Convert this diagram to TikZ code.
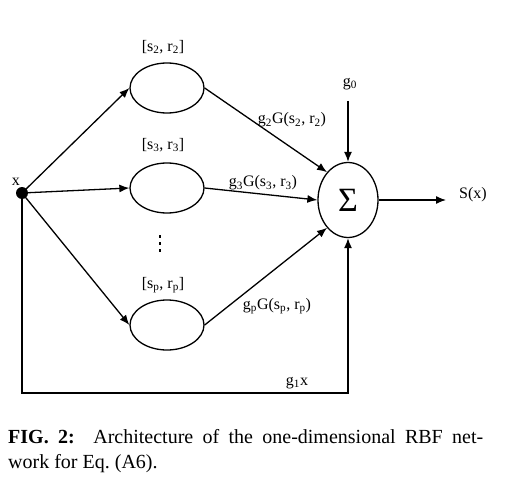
\documentclass[tikz,border=0pt]{standalone}
\usepackage{fontspec}
\setmainfont{Liberation Serif}
\usetikzlibrary{shapes.geometric,arrows.meta}
\newcommand\lsub[1]{\textsubscript{#1}}
\tikzset{
  unitbox/.style={draw, ellipse, line width=1.3pt, minimum width=74pt, minimum height=50pt, inner sep=0pt},
  lbl/.style={font=\fontsize{16}{18}\selectfont, inner sep=0pt},
  arr/.style={line width=1.3pt, -{Latex[length=10pt,width=8pt]}},
  ln/.style={line width=1.3pt}
}
\begin{document}
\begin{tikzpicture}[x=1pt,y=-1pt]
\useasboundingbox (0,0) rectangle (505,481);
% nodes
\node[circle, fill=black, minimum size=12pt, inner sep=0pt] (x) at (22,193) {};
\node[lbl] (xl) at (16,182) {x};
\node[unitbox] (e2) at (167,88) {};
\node[unitbox] (e3) at (167,188) {};
\node[unitbox] (ep) at (167,325) {};
\node[draw, ellipse, line width=1.3pt, minimum width=60pt, minimum height=75pt, inner sep=0pt,
      font=\fontsize{34}{34}\selectfont] (sig) at (348,200) {Σ};
\node[lbl] (l2) at (163,47) {[s\lsub{2}, r\lsub{2}]};
\node[lbl] (l3) at (163,145) {[s\lsub{3}, r\lsub{3}]};
\node[lbl] (lp) at (163,285) {[s\lsub{p}, r\lsub{p}]};
\node[lbl] (g0) at (350,84) {g\lsub{0}};
\node[lbl] (sx) at (473,195) {S(x)};
\node[lbl] (w2) at (292,120) {g\lsub{2}G(s\lsub{2}, r\lsub{2})};
\node[lbl] (w3) at (263,183) {g\lsub{3}G(s\lsub{3}, r\lsub{3})};
\node[lbl] (wp) at (277,306) {g\lsub{p}G(s\lsub{p}, r\lsub{p})};
\node[lbl] (w1) at (297,383) {g\lsub{1}x};
% vertical dots
\foreach \yy in {236,243,250} \fill (158.7,\yy-1.5) rectangle (161.3,\yy+1.5);
% coordinates
\coordinate (g0s) at (348,101);
\coordinate (outend) at (446,200);
\coordinate (corner) at (22,393);
% connectors
\draw[arr] (x.center) -- (e2.west);
\draw[arr] (x.center) -- (e3.west);
\draw[arr] (x.center) -- (ep.west);
\draw[arr] (e2.east) -- (sig.127);
\draw[arr] (e3.east) -- (sig.west);
\draw[arr] (ep.east) -- (sig.233);
\draw[arr] (g0s) -- (sig.north);
\draw[arr] (sig.east) -- (outend);
\draw[arr] (x.center) -- (corner) -| (sig.south);
% caption
\node[anchor=north west, inner sep=0pt, text width=475pt, align=justify,
      font=\fontsize{20}{25}\selectfont] (cap) at (8,429)
  {\textbf{FIG.\ 2:}\ \ Architecture of the one-dimensional RBF net-\linebreak work for Eq.\ (A6).};
\end{tikzpicture}
\end{document}
